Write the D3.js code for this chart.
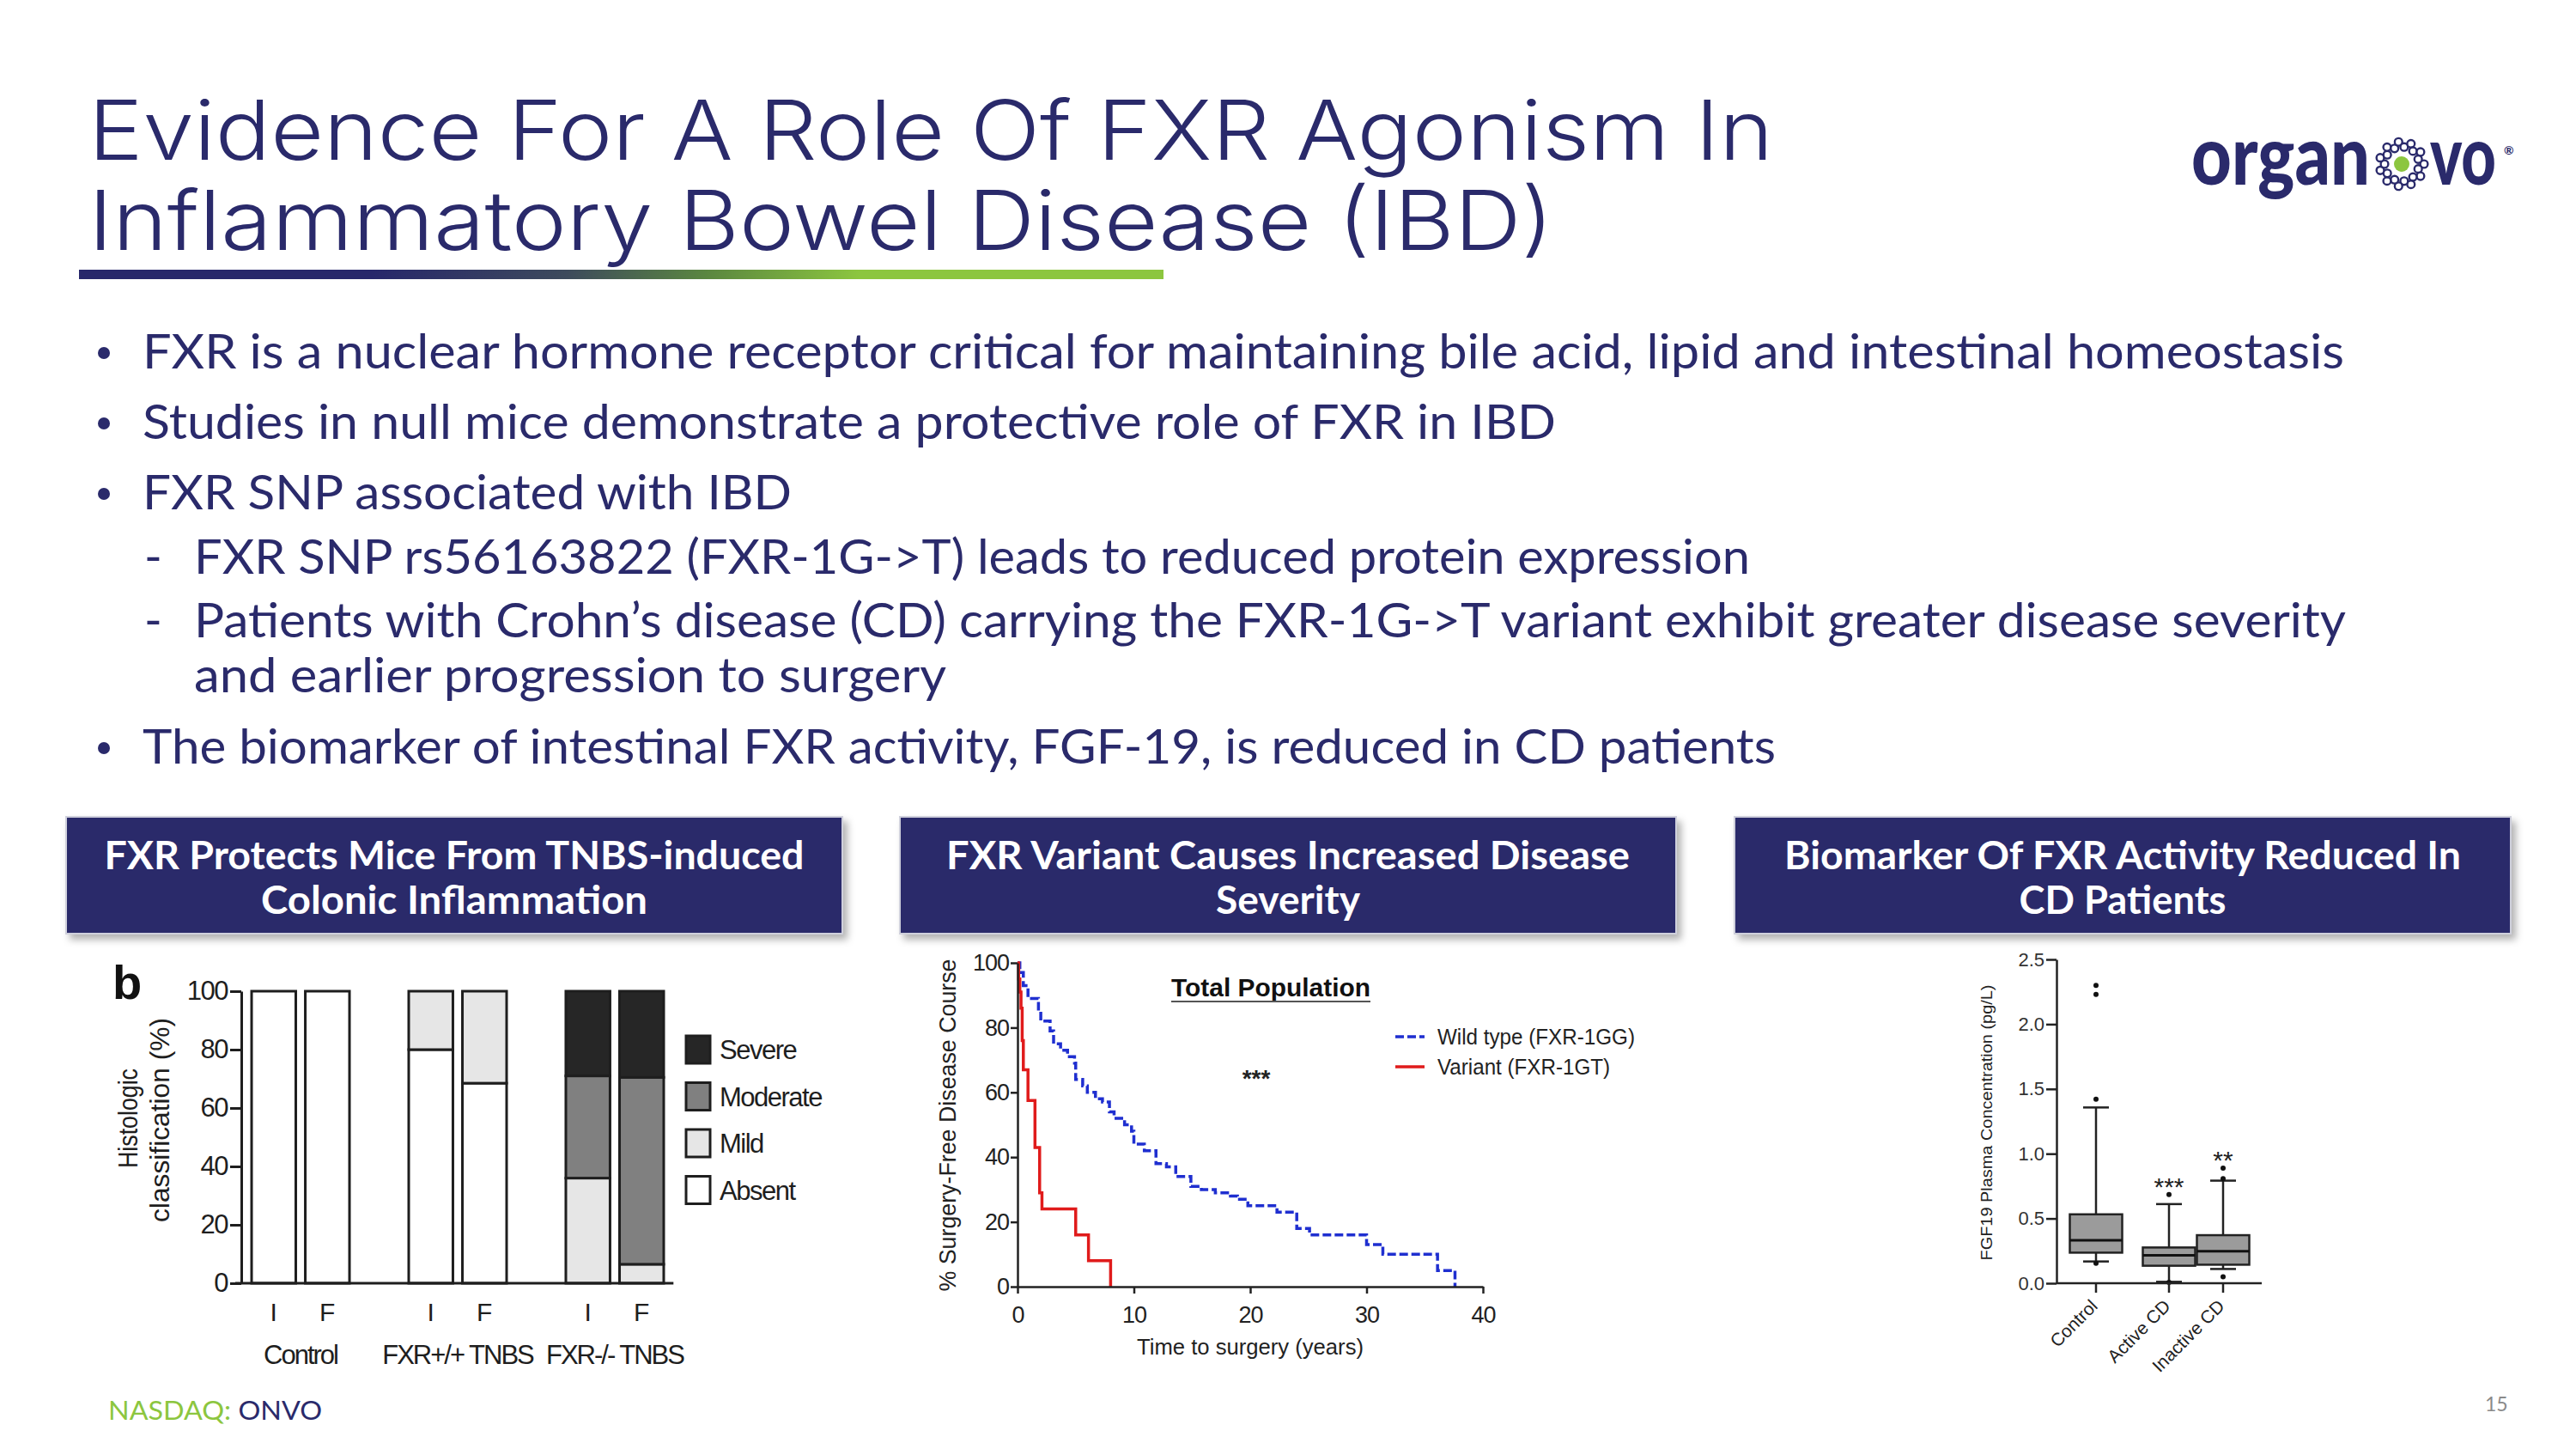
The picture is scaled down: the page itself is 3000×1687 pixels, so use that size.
<!DOCTYPE html>
<html><head><meta charset="utf-8">
<script src="https://cdn.jsdelivr.net/npm/d3@7"></script>
<style>html,body{margin:0;padding:0;background:#fff;}svg{display:block}</style>
</head><body>
<svg id="slide" width="3000" height="1687"></svg>
<script>
// ---------------- DATA ----------------
const titleLines = ["Evidence For A Role Of FXR Agonism In", "Inflammatory Bowel Disease (IBD)"];
const bulletLines = [
  {level: 0, text: "FXR is a nuclear hormone receptor critical for maintaining bile acid, lipid and intestinal homeostasis"},
  {level: 0, text: "Studies in null mice demonstrate a protective role of FXR in IBD"},
  {level: 0, text: "FXR SNP associated with IBD"},
  {level: 1, text: "FXR SNP rs56163822 (FXR-1G->T) leads to reduced protein expression"},
  {level: 1, text: "Patients with Crohn\u2019s disease (CD) carrying the FXR-1G->T variant exhibit greater disease severity"},
  {level: 2, text: "and earlier progression to surgery"},
  {level: 0, text: "The biomarker of intestinal FXR activity, FGF-19, is reduced in CD patients"}
];
const panelTitles = [
  ["FXR Protects Mice From TNBS-induced", "Colonic Inflammation"],
  ["FXR Variant Causes Increased Disease", "Severity"],
  ["Biomarker Of FXR Activity Reduced In", "CD Patients"]
];

// Panel 1: histologic classification (%), stacked bars
const histoGroups = ["Control", "FXR+/+ TNBS", "FXR-/- TNBS"];
const histoTimepoints = ["I", "F"];
const histoLevels = ["Absent", "Mild", "Moderate", "Severe"];       // stacking order, bottom to top
const histoAbsent   = [100, 100, 80, 68.5, 0, 0];
const histoMild     = [0, 0, 20, 31.5, 36, 6.5];
const histoModerate = [0, 0, 0, 0, 35, 64];
const histoSevere   = [0, 0, 0, 0, 29, 29.5];
const histoTicks = [0, 20, 40, 60, 80, 100];
const histoLegend = ["Severe", "Moderate", "Mild", "Absent"];

// Panel 2: Kaplan-Meier, % surgery-free disease course vs years
const wildTime = [0, 0.2, 0.5, 0.9, 1.8, 2.0, 2.8, 3.1, 3.7, 4.3, 4.9, 5.0, 5.6, 6.0, 6.7, 7.3, 7.9, 8.3, 9.2, 9.8, 10.0, 10.9, 11.9, 12.8, 13.6, 14.9, 15.8, 17.0, 18.3, 18.9, 19.8, 22.3, 24.0, 25.1, 30.0, 31.4, 36.1, 37.6];
const wildSurv = [100, 97, 93, 89, 85, 82, 79, 75, 73, 71, 69, 64, 62, 60, 58, 57, 54, 52, 50, 48, 44, 42, 38, 37, 34, 31, 30, 29, 28, 27, 25, 23, 18, 16, 13, 10, 5, 0];
const variantTime = [0, 0.1, 0.2, 0.3, 0.4, 0.5, 0.9, 1.5, 1.9, 2.1, 5.0, 6.1, 8.0];
const variantSurv = [100, 95, 91, 86, 76, 67, 57.5, 43, 29, 24, 16, 8, 0];
const kmXTicks = [0, 10, 20, 30, 40];
const kmYTicks = [0, 20, 40, 60, 80, 100];
const kmLegend = ["Wild type (FXR-1GG)", "Variant (FXR-1GT)"];

// Panel 3: FGF19 plasma concentration box plot
const fgfCategories = ["Control", "Active CD", "Inactive CD"];
const fgfWhiskerLow  = [0.168, 0.011, 0.110];
const fgfQ1          = [0.236, 0.135, 0.143];
const fgfMedian      = [0.331, 0.216, 0.247];
const fgfQ3          = [0.532, 0.276, 0.371];
const fgfWhiskerHigh = [1.357, 0.611, 0.792];
const fgfOutliers    = [[2.30, 2.23, 1.42, 0.155], [0.684, 0.006], [0.889, 0.808, 0.05]];
const fgfSignificance = ["", "***", "**"];
const fgfTicks = [0, 0.5, 1.0, 1.5, 2.0, 2.5];

// ---------------- HELPERS ----------------
const NAVY = "#2a2a6b";
const GREEN = "#8cc63f";
const svg = d3.select("#slide");
svg.append("rect").attr("width", 3000).attr("height", 1687).attr("fill", "#fff");
const defs = svg.append("defs");

function txt(g, x, y, s, o = {}) {
  const t = g.append("text").attr("x", x).attr("y", y).text(s)
    .attr("font-family", o.family || "Lato")
    .attr("font-size", o.size || 30)
    .attr("font-weight", o.weight || 400)
    .attr("fill", o.fill || "#222");
  if (o.anchor) t.attr("text-anchor", o.anchor);
  if (o.len) t.attr("textLength", o.len).attr("lengthAdjust", "spacingAndGlyphs");
  if (o.ls != null) t.attr("letter-spacing", o.ls);
  if (o.rotate) t.attr("transform", `rotate(${o.rotate},${x},${y})`);
  return t;
}
// text squeezed horizontally by a transform so its box matches the target width
function fitTxt(g, x, y, s, width, o = {}) {
  const t = txt(g, 0, 0, s, o);
  const w = t.node().getComputedTextLength() || width;
  t.attr("transform", `translate(${x},${y}) scale(${width / w},1)`);
  return t;
}

// ---------------- HEADER ----------------
const titleLens = [1962, 1706];
titleLines.forEach((l, i) => txt(svg, 103, 186 + i * 105, l, {family: "Inter", size: 96, weight: 300, fill: NAVY, len: titleLens[i]}));

const grad = defs.append("linearGradient").attr("id", "tbar").attr("x1", "0%").attr("x2", "100%");
[["0%", "#27276b"], ["27%", "#27276b"], ["45%", "#3d4a5c"], ["58%", "#5b8740"], ["72%", "#8cc63f"], ["100%", "#8cc63f"]]
  .forEach(([o, c]) => grad.append("stop").attr("offset", o).attr("stop-color", c));
svg.append("rect").attr("x", 92).attr("y", 314).attr("width", 1263).attr("height", 11).attr("fill", "url(#tbar)");

// logo
const logo = svg.append("g");
fitTxt(logo, 2552, 215, "organ", 208, {family: "Lato", size: 96, weight: 900, fill: NAVY});
fitTxt(logo, 2830, 215, "vo", 77, {family: "Lato", size: 96, weight: 900, fill: NAVY});
txt(logo, 2916, 180, "\u00AE", {family: "Lato", size: 14, weight: 700, fill: NAVY});
const ringN = 22;
d3.range(ringN).forEach(i => {
  const a = i / ringN * Math.PI * 2;
  const r = i % 2 ? 20 : 26;
  logo.append("circle").attr("cx", 2797 + r * Math.cos(a)).attr("cy", 191 + r * Math.sin(a))
    .attr("r", 4.4).attr("fill", "#fff").attr("stroke", NAVY).attr("stroke-width", 2.4);
});
logo.append("circle").attr("cx", 2797).attr("cy", 191).attr("r", 9).attr("fill", GREEN);

// bullets
const bulletBase = [429, 511, 593, 668, 742, 806, 889];
const bulletEnd = [2730, 1812, 922, 2038, 2732, 1102, 2068];
bulletLines.forEach((b, i) => {
  const x = b.level === 0 ? 166 : 226;
  if (b.level === 0) svg.append("circle").attr("cx", 121).attr("cy", bulletBase[i] - 18).attr("r", 7).attr("fill", NAVY);
  if (b.level === 1) txt(svg, 168, bulletBase[i], "-", {size: 56, fill: NAVY});
  txt(svg, x, bulletBase[i], b.text, {family: "Lato", size: 56, fill: NAVY, len: bulletEnd[i] - x});
});

// panel title boxes
const sh = defs.append("filter").attr("id", "shadow").attr("x", "-5%").attr("y", "-10%").attr("width", "115%").attr("height", "135%");
sh.append("feDropShadow").attr("dx", 5).attr("dy", 6).attr("stdDeviation", 4).attr("flood-color", "#000").attr("flood-opacity", 0.3);
const boxX = [77, 1048, 2020];
const panelLens = [[815, 450], [796, 168], [788, 241]];
panelTitles.forEach((p, i) => {
  svg.append("rect").attr("x", boxX[i]).attr("y", 951).attr("width", 904).attr("height", 136)
    .attr("fill", "#29296b").attr("stroke", "#cfd0dc").attr("stroke-width", 2).attr("filter", "url(#shadow)");
  p.forEach((l, j) => txt(svg, boxX[i] + 452, 1012 + j * 52, l, {family: "Lato", size: 46, weight: 700, fill: "#fff", anchor: "middle", len: panelLens[i][j]}));
});

// footer
const foot = txt(svg, 126, 1653, "", {family: "Lato", size: 30, fill: GREEN});
foot.append("tspan").text("NASDAQ: ").attr("fill", GREEN);
foot.append("tspan").text("ONVO").attr("fill", NAVY);
foot.attr("textLength", 249).attr("lengthAdjust", "spacingAndGlyphs");
txt(svg, 2894, 1643, "15", {family: "Lato", size: 23, fill: "#8a8a8a"});

// ---------------- PANEL 1 ----------------
const p1 = svg.append("g").attr("font-family", "Liberation Sans");
const yH = d3.scaleLinear().domain([0, 100]).range([1494, 1154]);
const xG = d3.scaleBand().domain(histoGroups).range([285.7, 780.3]).paddingInner(0.377).paddingOuter(0.04);
const xT = d3.scaleBand().domain(histoTimepoints).range([0, xG.bandwidth()]).paddingInner(0.177);
const fills = {Absent: "#ffffff", Mild: "#e6e6e6", Moderate: "#808080", Severe: "#262626"};
const levelVals = {Absent: histoAbsent, Mild: histoMild, Moderate: histoModerate, Severe: histoSevere};
const barRows = [];
histoGroups.forEach((g, gi) => histoTimepoints.forEach((t, ti) => {
  const idx = gi * 2 + ti;
  const row = {group: g, tp: t};
  histoLevels.forEach(l => row[l] = levelVals[l][idx]);
  barRows.push(row);
}));
const stacked = d3.stack().keys(histoLevels)(barRows);
stacked.forEach(layer => {
  p1.selectAll(null).data(layer.filter(d => d[1] - d[0] > 0)).join("rect")
    .attr("x", d => xG(d.data.group) + xT(d.data.tp))
    .attr("width", xT.bandwidth())
    .attr("y", d => yH(d[1]))
    .attr("height", d => yH(d[0]) - yH(d[1]))
    .attr("fill", fills[layer.key]).attr("stroke", "#1e1e1e").attr("stroke-width", 3);
});
const yAx1 = p1.append("g").attr("transform", "translate(281,0)")
  .call(d3.axisLeft(yH).tickValues(histoTicks).tickSize(13).tickSizeOuter(0).tickPadding(3));
yAx1.select(".domain").attr("stroke", "#1e1e1e").attr("stroke-width", 3);
yAx1.selectAll(".tick line").attr("stroke", "#1e1e1e").attr("stroke-width", 3);
yAx1.selectAll(".tick text").attr("font-size", 31).attr("font-family", "Liberation Sans").attr("fill", "#1e1e1e").attr("letter-spacing", -1.5);
p1.append("line").attr("x1", 274).attr("x2", xG.range()[1] + 4).attr("y1", yH(0)).attr("y2", yH(0))
  .attr("stroke", "#1e1e1e").attr("stroke-width", 3);
barRows.forEach(d => txt(p1, xG(d.group) + xT(d.tp) + xT.bandwidth() / 2, 1538, d.tp, {family: "Liberation Sans", size: 30, anchor: "middle", fill: "#1e1e1e"}));
histoGroups.forEach(g => txt(p1, xG(g) + xG.bandwidth() / 2, 1588, g, {family: "Liberation Sans", size: 31, anchor: "middle", fill: "#1e1e1e", ls: -2}));
txt(p1, 160, 1302, "Histologic", {family: "Liberation Sans", size: 32, anchor: "middle", rotate: -90, fill: "#1e1e1e", len: 116});
txt(p1, 197, 1304, "classification (%)", {family: "Liberation Sans", size: 32, anchor: "middle", rotate: -90, fill: "#1e1e1e", len: 238});
txt(p1, 131, 1163, "b", {family: "Liberation Sans", size: 56, weight: 700, fill: "#111"});
histoLegend.forEach((l, i) => {
  const cy = 1222 + i * 54.5;
  p1.append("rect").attr("x", 799).attr("y", cy - 16).attr("width", 28).attr("height", 32)
    .attr("fill", fills[l]).attr("stroke", "#1e1e1e").attr("stroke-width", 3);
  txt(p1, 838, cy + 11, l, {family: "Liberation Sans", size: 31, fill: "#1e1e1e", ls: -1.5});
});

// ---------------- PANEL 2 ----------------
const p2 = svg.append("g").attr("font-family", "Liberation Sans");
const xK = d3.scaleLinear().domain([0, 40]).range([1185, 1727]);
const yK = d3.scaleLinear().domain([0, 100]).range([1498, 1121]);
const kmLine = d3.line().x(d => xK(d[0])).y(d => yK(d[1])).curve(d3.curveStepAfter);
p2.append("path").attr("d", kmLine(d3.zip(wildTime, wildSurv))).attr("fill", "none")
  .attr("stroke", "#1f2fd0").attr("stroke-width", 3.5).attr("stroke-dasharray", "10 4");
p2.append("path").attr("d", kmLine(d3.zip(variantTime, variantSurv))).attr("fill", "none")
  .attr("stroke", "#e01b1b").attr("stroke-width", 3.5);
const xAx2 = p2.append("g").attr("transform", `translate(0,${yK(0)})`)
  .call(d3.axisBottom(xK).tickValues(kmXTicks).tickSize(8).tickSizeOuter(0).tickPadding(15));
const yAx2 = p2.append("g").attr("transform", `translate(${xK(0)},0)`)
  .call(d3.axisLeft(yK).tickValues(kmYTicks).tickSize(8).tickSizeOuter(0).tickPadding(2));
[xAx2, yAx2].forEach(a => {
  a.select(".domain").attr("stroke", "#222").attr("stroke-width", 2.5);
  a.selectAll(".tick line").attr("stroke", "#222").attr("stroke-width", 2.5);
  a.selectAll(".tick text").attr("font-size", 27).attr("font-family", "Liberation Sans").attr("fill", "#222").attr("letter-spacing", -1);
});
txt(p2, 1456, 1577, "Time to surgery (years)", {family: "Liberation Sans", size: 26, anchor: "middle", fill: "#222", len: 264});
txt(p2, 1113, 1310, "% Surgery-Free Disease Course", {family: "Liberation Sans", size: 27, anchor: "middle", rotate: -90, fill: "#222", len: 387});
txt(p2, 1480, 1160, "Total Population", {family: "Liberation Sans", size: 29, weight: 700, anchor: "middle", fill: "#111", len: 232});
p2.append("line").attr("x1", 1364).attr("x2", 1596).attr("y1", 1166).attr("y2", 1166).attr("stroke", "#555").attr("stroke-width", 2);
txt(p2, 1463, 1265, "***", {family: "Liberation Sans", size: 28, weight: 700, anchor: "middle", fill: "#222"});
const kmStyles = [{c: "#1f2fd0", dash: "10 4"}, {c: "#e01b1b", dash: null}];
kmLegend.forEach((l, i) => {
  const y = 1207 + i * 35;
  p2.append("line").attr("x1", 1625).attr("x2", 1659).attr("y1", y).attr("y2", y)
    .attr("stroke", kmStyles[i].c).attr("stroke-width", 3.5).attr("stroke-dasharray", kmStyles[i].dash);
  txt(p2, 1674, y + 9, l, {family: "Liberation Sans", size: 25, fill: "#222", len: i ? 201 : 230});
});

// ---------------- PANEL 3 ----------------
const p3 = svg.append("g").attr("font-family", "Liberation Sans");
const yB = d3.scaleLinear().domain([0, 2.5]).range([1494, 1117]);
const xB = d3.scaleOrdinal().domain(fgfCategories).range([2441, 2526, 2589]);
const boxW = 61, capW = 30;
fgfCategories.forEach((c, i) => {
  const cx = xB(c);
  const g = p3.append("g");
  g.append("line").attr("x1", cx).attr("x2", cx).attr("y1", yB(fgfWhiskerLow[i])).attr("y2", yB(fgfWhiskerHigh[i])).attr("stroke", "#222").attr("stroke-width", 2.5);
  [fgfWhiskerLow[i], fgfWhiskerHigh[i]].forEach(v => g.append("line").attr("x1", cx - capW / 2).attr("x2", cx + capW / 2)
    .attr("y1", yB(v)).attr("y2", yB(v)).attr("stroke", "#222").attr("stroke-width", 2.5));
  g.append("rect").attr("x", cx - boxW / 2).attr("width", boxW).attr("y", yB(fgfQ3[i])).attr("height", yB(fgfQ1[i]) - yB(fgfQ3[i]))
    .attr("fill", "#9b9b9b").attr("stroke", "#222").attr("stroke-width", 2.5);
  g.append("line").attr("x1", cx - boxW / 2).attr("x2", cx + boxW / 2).attr("y1", yB(fgfMedian[i])).attr("y2", yB(fgfMedian[i]))
    .attr("stroke", "#111").attr("stroke-width", 3);
  fgfOutliers[i].forEach(v => g.append("circle").attr("cx", cx).attr("cy", yB(v)).attr("r", 3).attr("fill", "#111"));
  if (fgfSignificance[i]) {
    const top = d3.max([fgfWhiskerHigh[i], ...fgfOutliers[i]]) + 0.1;
    txt(g, cx, yB(top) + 16, fgfSignificance[i], {family: "Liberation Sans", size: 30, anchor: "middle", fill: "#222"});
  }
  g.append("line").attr("x1", cx).attr("x2", cx).attr("y1", yB(0)).attr("y2", yB(0) + 11).attr("stroke", "#222").attr("stroke-width", 2.5);
  txt(g, cx + 3, 1522, c, {family: "Liberation Sans", size: 21, anchor: "end", rotate: -45, fill: "#222"});
});
const yAx3 = p3.append("g").attr("transform", "translate(2395,0)")
  .call(d3.axisLeft(yB).tickValues(fgfTicks).tickFormat(d3.format(".1f")).tickSize(12).tickSizeOuter(0).tickPadding(2));
yAx3.select(".domain").attr("stroke", "#222").attr("stroke-width", 2.5);
yAx3.selectAll(".tick line").attr("stroke", "#222").attr("stroke-width", 2.5);
yAx3.selectAll(".tick text").attr("font-size", 22).attr("font-family", "Liberation Sans").attr("fill", "#333");
p3.append("line").attr("x1", 2395).attr("x2", 2634).attr("y1", yB(0)).attr("y2", yB(0)).attr("stroke", "#222").attr("stroke-width", 2.5);
txt(p3, 2320, 1307, "FGF19 Plasma Concentration (pg/L)", {family: "Liberation Sans", size: 19, anchor: "middle", rotate: -90, fill: "#222", len: 321});
</script>
</body></html>
